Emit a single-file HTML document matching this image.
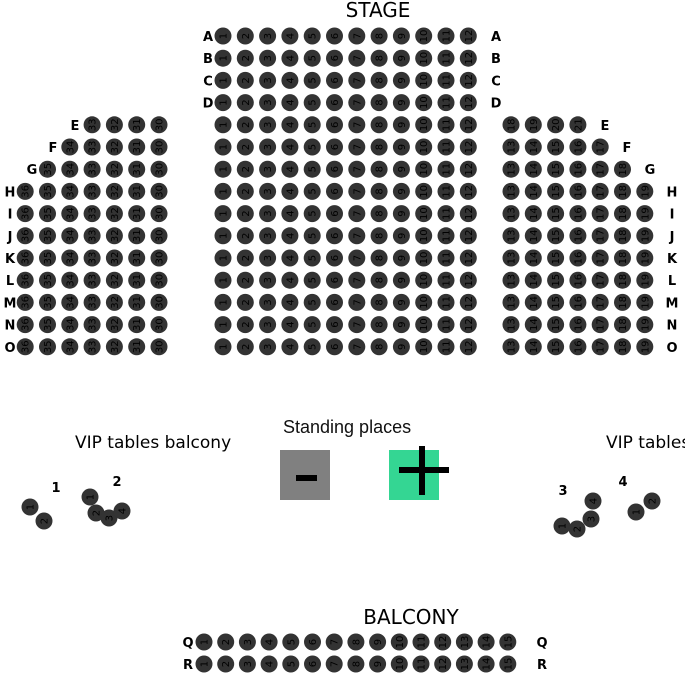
<!DOCTYPE html>
<html><head><meta charset="utf-8"><style>
html,body{margin:0;padding:0;background:#fff;width:685px;height:690px;overflow:hidden}
svg{display:block}
.l{font-family:"DejaVu Sans","Liberation Sans",sans-serif;font-weight:bold;font-size:13px;fill:#000}
.n{font-family:"DejaVu Sans","Liberation Sans",sans-serif;font-size:10px;fill:#000}
</style></head><body>
<svg id="s" width="685" height="690" viewBox="0 0 685 690" xmlns="http://www.w3.org/2000/svg">
<text x="378" y="17" text-anchor="middle" font-family="DejaVu Sans, Liberation Sans, sans-serif" font-size="20" fill="#000">STAGE</text>
<text x="411" y="624" text-anchor="middle" font-family="DejaVu Sans, Liberation Sans, sans-serif" font-size="20" fill="#000">BALCONY</text>
<text x="75" y="448" font-family="DejaVu Sans, Liberation Sans, sans-serif" font-size="17" fill="#000">VIP tables balcony</text>
<text x="606" y="448" font-family="DejaVu Sans, Liberation Sans, sans-serif" font-size="17" fill="#000">VIP tables balcony</text>
<text x="283" y="433" font-family="Liberation Sans, sans-serif" font-size="18" fill="#111">Standing places</text>
<rect x="280" y="450" width="50" height="50" fill="#808080"/>
<rect x="296" y="475" width="21" height="6" fill="#000"/>
<rect x="389" y="450" width="50" height="50" fill="#34d693"/>
<rect x="419" y="446" width="6" height="49" fill="#000"/>
<rect x="399" y="467" width="50" height="6" fill="#000"/>
<text class="l" x="56" y="492" text-anchor="middle">1</text>
<text class="l" x="117" y="486" text-anchor="middle">2</text>
<text class="l" x="563" y="495" text-anchor="middle">3</text>
<text class="l" x="623" y="486" text-anchor="middle">4</text>
<g id="labels"></g>
<g id="seats"></g>
</svg>
<script>
var S=document.getElementById('seats'),L=document.getElementById('labels'),NS='http://www.w3.org/2000/svg';
function seat(x,y,n){var c=document.createElementNS(NS,'circle');c.setAttribute('cx',x);c.setAttribute('cy',y);c.setAttribute('r',8.5);c.setAttribute('fill','#333');S.appendChild(c);
 if(n!==''){var t=document.createElementNS(NS,'text');t.setAttribute('class','n');t.setAttribute('x',x);t.setAttribute('y',y+3.5);t.setAttribute('text-anchor','middle');t.setAttribute('transform','rotate(-90 '+x+' '+y+')');t.textContent=n;S.appendChild(t);}}
function lab(x,y,s){var t=document.createElementNS(NS,'text');t.setAttribute('class','l');t.setAttribute('x',x);t.setAttribute('y',y+5);t.setAttribute('text-anchor','middle');t.textContent=s;L.appendChild(t);}
var rows='ABCDEFGHIJKLMNO',dy=22.2,y0=36,dx=22.3;
for(var r=0;r<15;r++){var y=y0+r*dy;
 for(var c=0;c<12;c++)seat(223+c*dx,y,c+1);
 if(r<4){lab(208,y,rows[r]);lab(496,y,rows[r]);}
 if(r>=4){var k=r-4;
  var ls=k==0?4:k==1?5:k==2?6:7;
  for(var i=0;i<ls;i++){seat(159-i*dx,y,30+i);}
  var lx=[75,53,32,10][Math.min(k,3)];lab(lx,y,rows[r]);
  for(var i=0;i<ls;i++){seat(511+i*dx,y,k==0?18+i:13+i);}
  var rx=[605,627,650,672][Math.min(k,3)];lab(rx,y,rows[r]);
 }
}
for(var r=0;r<2;r++){var y=642+r*22;for(var c=0;c<15;c++)seat(204+c*21.7,y,c+1);lab(188,y,'QR'[r]);lab(542,y,'QR'[r]);}
[[30,507,1],[44,521,2],[90,497,1],[96,513,2],[109,518,3],[122,511,4],[562,526,1],[577,529,2],[591,519,3],[593,501,4],[636,512,1],[652,501,2]].forEach(function(p){seat(p[0],p[1],p[2]);});
</script>
</body></html>
